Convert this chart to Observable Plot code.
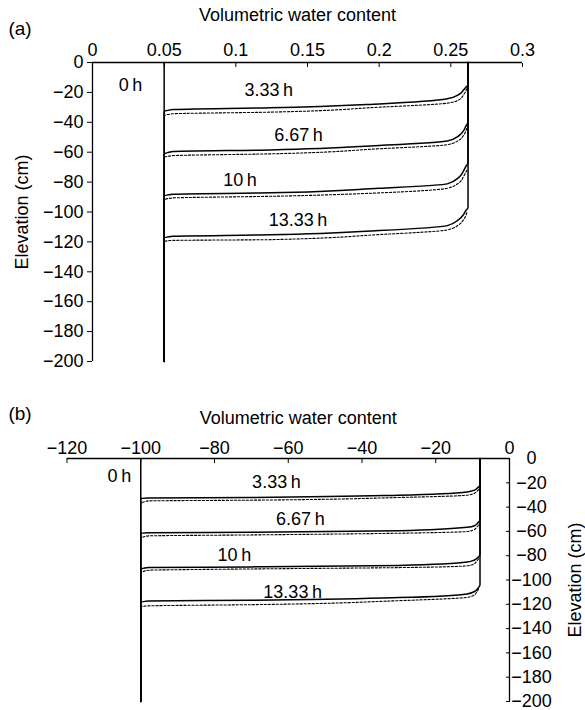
<!DOCTYPE html>
<html><head><meta charset="utf-8">
<script src="https://cdn.jsdelivr.net/npm/d3@7"></script>
<script src="https://cdn.jsdelivr.net/npm/@observablehq/plot@0.6"></script>
<style>body{margin:0;background:#fff}#chart svg{display:block}</style>
</head><body><div id="chart"></div>
<script>
// ---------- data ----------
const times = ["3.33\u2009h", "6.67\u2009h", "10\u2009h", "13.33\u2009h"];
const initialLabel = "0\u2009h";
const thetaTicks = [0, 0.05, 0.1, 0.15, 0.2, 0.25, 0.3];
const psiTicks = [-120, -100, -80, -60, -40, -20, 0];
const elevTicks = [0, -20, -40, -60, -80, -100, -120, -140, -160, -180, -200];

// panel (a): volumetric water content profiles
const thetaInit = [0.05, 0.05];
const zInit = [0, -200];
const thetaSolid = [0.262, 0.262, 0.2605, 0.259, 0.2556, 0.2475, 0.2, 0.124, 0.056, 0.05, 0.05];
const zSolidA_333 = [0, -15, -16.5, -18.3, -21.4, -24.3, -27.7, -30.3, -31.5, -33, -200];
const zSolidA_667 = [0, -40, -42.5, -45.5, -49, -52.5, -55.5, -58.5, -59.6, -61.6, -200];
const zSolidA_10 = [0, -67, -69.5, -72.3, -76.8, -81.2, -84.1, -87.2, -88.1, -89.5, -200];
const zSolidA_1333 = [0, -97, -99, -101.5, -105, -109.1, -112.4, -115.3, -116.2, -117.6, -200];
const thetaDashed = [0.2612, 0.259, 0.2556, 0.2475, 0.2, 0.124, 0.056, 0.05];
const zDashedA_333 = [-17.6, -21.4, -25, -27.2, -29.9, -33.2, -34.3, -35.5];
const zDashedA_667 = [-44, -48.5, -52, -55, -57.7, -61.1, -62.3, -63.4];
const zDashedA_10 = [-72, -76, -80.5, -84.1, -87.2, -89.5, -90.6, -91.7];
const zDashedA_1333 = [-100.5, -105, -108.5, -112, -115.1, -118.5, -119, -119.6];
const labelThetaA = [0.0265, 0.123, 0.1437, 0.1029, 0.1434];
const labelZA = [-15.4, -18.7, -48.9, -79, -105.7];

// panel (b): pressure head profiles
const psiInit = [-100, -100];
const psiSolid = [-8, -8, -8.6, -9.5, -11.5, -30, -70, -98, -100, -100];
const zSolidB_333 = [0, -22, -24, -26, -27.5, -30.2, -32.1, -32.5, -32.9, -200];
const zSolidB_667 = [0, -50.6, -53, -55.3, -56.6, -59.5, -60.7, -61.1, -61.5, -200];
const zSolidB_10 = [0, -79, -81.5, -83.5, -85.2, -88, -89.2, -89.8, -91.4, -200];
const zSolidB_1333 = [0, -104, -107, -109.5, -111.5, -114.5, -116.7, -117.3, -118.6, -200];
const psiDashed = [-8.4, -9, -9.8, -11.5, -30, -70, -98, -100];
const zDashedB_333 = [-25.6, -27.5, -29, -30.2, -32.1, -34.3, -34.9, -37];
const zDashedB_667 = [-54.7, -57, -58.8, -60.1, -61.5, -62.9, -63.7, -65.6];
const zDashedB_10 = [-82.5, -85, -87, -88.3, -89.8, -90.9, -92, -94.1];
const zDashedB_1333 = [-107.5, -110.5, -112.8, -114.3, -117, -120.3, -121.3, -121.9];
const labelPsiB = [-105.8, -63.2, -56.7, -74.6, -58.8];
const labelZB = [-14.7, -19.6, -49.8, -80, -110.2];

// ---------- build tables ----------
function rows(xs, zLists, names) {
  const out = [];
  zLists.forEach((zs, k) => zs.forEach((z, i) => out.push({time: names[k], x: xs[i], z})));
  return out;
}
const allNames = [initialLabel, ...times];
const solidA = [
  ...rows(thetaInit, [zInit], [initialLabel]),
  ...rows(thetaSolid, [zSolidA_333, zSolidA_667, zSolidA_10, zSolidA_1333], times)
];
const dashedA = rows(thetaDashed, [zDashedA_333, zDashedA_667, zDashedA_10, zDashedA_1333], times);
const labelsA = allNames.map((t, i) => ({time: t, x: labelThetaA[i], z: labelZA[i]}));
const solidB = [
  ...rows(psiInit, [zInit], [initialLabel]),
  ...rows(psiSolid, [zSolidB_333, zSolidB_667, zSolidB_10, zSolidB_1333], times)
];
const dashedB = rows(psiDashed, [zDashedB_333, zDashedB_667, zDashedB_10, zDashedB_1333], times);
const labelsB = allNames.map((t, i) => ({time: t, x: labelPsiB[i], z: labelZB[i]}));

const FONT = "'Liberation Sans', Arial, Helvetica, sans-serif";
const fmt = d3.format("");
const style = {fontFamily: FONT, fontSize: "18px", color: "#000", background: "#fff", overflow: "visible"};

const plotA = Plot.plot({
  width: 585, height: 370, marginTop: 62, marginBottom: 9, marginLeft: 92, marginRight: 63,
  style,
  x: {domain: [0, 0.3]},
  y: {domain: [-200, 0]},
  marks: [
    Plot.ruleY([0], {stroke: "#000", strokeWidth: 1.3}),
    Plot.ruleX([0], {stroke: "#000", strokeWidth: 1.3}),
    Plot.axisX({anchor: "top", ticks: thetaTicks, tickSize: 4, dy: 4, fill: "none", label: null}),
    Plot.axisX({anchor: "top", ticks: thetaTicks, tickSize: 0, tickPadding: 7, tickFormat: fmt, label: null}),
    Plot.axisY({anchor: "left", ticks: elevTicks, tickSize: 5, tickPadding: 4, tickFormat: fmt, label: null}),
    Plot.line(dashedA, {x: "x", y: "z", z: "time", curve: "monotone-y", stroke: "#000", strokeWidth: 1.1, strokeDasharray: "2.2,1.8"}),
    Plot.line(solidA, {x: "x", y: "z", z: "time", curve: "monotone-y", stroke: "#000", strokeWidth: 1.5}),
    Plot.text(labelsA, {x: "x", y: "z", text: "time", fontSize: 18}),
    Plot.text(["(a)"], {frameAnchor: "top-left", dx: -72.5, dy: -34, textAnchor: "middle", lineAnchor: "middle", fontSize: 19}),
    Plot.text(["Volumetric water content"], {frameAnchor: "top", dx: -10, dy: -47, lineAnchor: "middle", textAnchor: "middle", fontSize: 18}),
    Plot.text(["Elevation (cm)"], {frameAnchor: "left", dx: -70, rotate: -90, textAnchor: "middle", lineAnchor: "middle", fontSize: 18})
  ]
});

const plotB = Plot.plot({
  width: 585, height: 340, marginTop: 88, marginBottom: 9, marginLeft: 66.5, marginRight: 76,
  style,
  x: {domain: [-120, 0]},
  y: {domain: [-200, 0]},
  marks: [
    Plot.ruleY([0], {stroke: "#000", strokeWidth: 1.3}),
    Plot.ruleX([0], {stroke: "#000", strokeWidth: 1.3}),
    Plot.axisX({anchor: "top", ticks: psiTicks, tickSize: 4, dy: 4, fill: "none", label: null}),
    Plot.axisX({anchor: "top", ticks: psiTicks, tickSize: 0, tickPadding: 5, tickFormat: fmt, label: null}),
    Plot.axisY({anchor: "right", ticks: elevTicks, tickSize: 4, dx: -4, fill: "none", label: null}),
    Plot.axisY({anchor: "right", ticks: elevTicks, tickSize: 0, tickPadding: 22, textAnchor: "middle", tickFormat: fmt, label: null}),
    Plot.line(dashedB, {x: "x", y: "z", z: "time", curve: "monotone-y", stroke: "#000", strokeWidth: 1.1, strokeDasharray: "2.2,1.8"}),
    Plot.line(solidB, {x: "x", y: "z", z: "time", curve: "monotone-y", stroke: "#000", strokeWidth: 1.5}),
    Plot.text(labelsB, {x: "x", y: "z", text: "time", fontSize: 18}),
    Plot.text(["(b)"], {frameAnchor: "top-left", dx: -47, dy: -45, textAnchor: "middle", lineAnchor: "middle", fontSize: 19}),
    Plot.text(["Volumetric water content"], {frameAnchor: "top", dx: 10, dy: -40, lineAnchor: "middle", textAnchor: "middle", fontSize: 18}),
    Plot.text(["Elevation (cm)"], {frameAnchor: "right", dx: 66, rotate: -90, textAnchor: "middle", lineAnchor: "middle", fontSize: 18})
  ]
});

document.getElementById("chart").append(plotA, plotB);
</script></body></html>
